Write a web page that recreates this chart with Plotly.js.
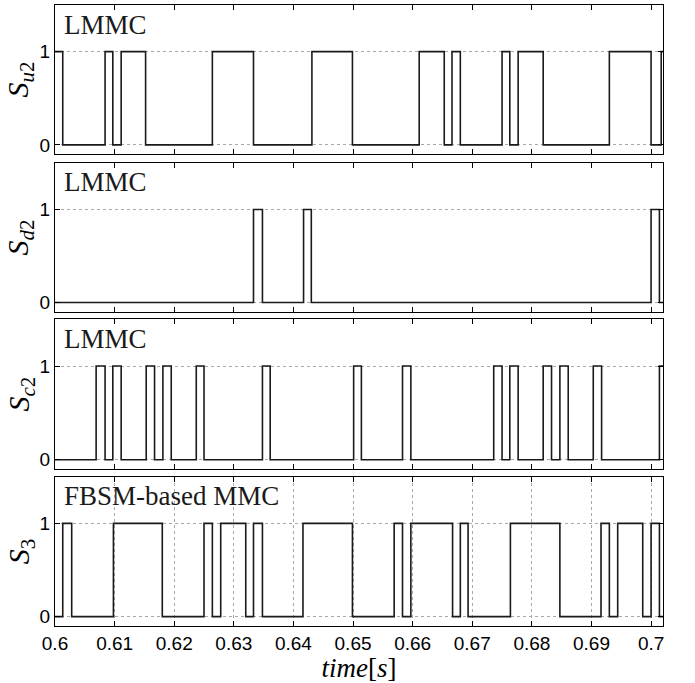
<!DOCTYPE html>
<html><head><meta charset="utf-8">
<script src="https://cdn.plot.ly/plotly-3.0.1.min.js"></script>
<style>body{margin:0;padding:0;background:#fff}#chart{width:695px;height:683px}</style>
</head><body><div id="chart"></div>
<script>
// Switching instants (s) and the state held from each instant (step, hv)
const su2_t = [0.6, 0.6013, 0.6084, 0.6097, 0.6111, 0.6152, 0.6264, 0.6333, 0.6431, 0.6499, 0.6611, 0.6653, 0.6666, 0.6680, 0.6750, 0.6763, 0.6777, 0.6819, 0.6930, 0.7000, 0.7017, 0.702];
const su2_v = [1, 0, 1, 0, 1, 0, 1, 0, 1, 0, 1, 0, 1, 0, 1, 0, 1, 0, 1, 0, 1, 1];

const sd2_t = [0.6, 0.6333, 0.6348, 0.6417, 0.6430, 0.7000, 0.7014, 0.702];
const sd2_v = [0, 1, 0, 1, 0, 1, 0, 0];

const sc2_t = [0.6, 0.6069, 0.6084, 0.6097, 0.6111, 0.6153, 0.6167, 0.6181, 0.6195, 0.6237, 0.6250, 0.6348, 0.6361, 0.6501, 0.6514, 0.6583, 0.6597, 0.6736, 0.6750, 0.6763, 0.6777, 0.6819, 0.6833, 0.6847, 0.6861, 0.6903, 0.6917, 0.7014, 0.702];
const sc2_v = [0, 1, 0, 1, 0, 1, 0, 1, 0, 1, 0, 1, 0, 1, 0, 1, 0, 1, 0, 1, 0, 1, 0, 1, 0, 1, 0, 1, 1];

const s3_t = [0.6, 0.6013, 0.6028, 0.6098, 0.6180, 0.6250, 0.6264, 0.6278, 0.6320, 0.6333, 0.6348, 0.6416, 0.6499, 0.6569, 0.6583, 0.6597, 0.6667, 0.6680, 0.6693, 0.6764, 0.6847, 0.6916, 0.6930, 0.6944, 0.6986, 0.7000, 0.7014, 0.702];
const s3_v = [0, 1, 0, 1, 0, 1, 0, 1, 0, 1, 0, 1, 0, 1, 0, 1, 0, 1, 0, 1, 0, 1, 0, 1, 0, 1, 0, 0];

const panelLabels = ["LMMC", "LMMC", "LMMC", "FBSM-based MMC"];
const yTitles = ["<i>S</i><sub><i>u</i>2</sub>", "<i>S</i><sub><i>d</i>2</sub>", "<i>S</i><sub><i>c</i>2</sub>", "<i>S</i><sub>3</sub>"];
const xTickVals = [0.6, 0.61, 0.62, 0.63, 0.64, 0.65, 0.66, 0.67, 0.68, 0.69, 0.7];
const xTickText = ["0.6", "0.61", "0.62", "0.63", "0.64", "0.65", "0.66", "0.67", "0.68", "0.69", "0.7"];

const series = [[su2_t, su2_v], [sd2_t, sd2_v], [sc2_t, sc2_v], [s3_t, s3_v]];
const domains = [[0.7597, 1.0], [0.5059, 0.7457], [0.2527, 0.4941], [0.0, 0.2403]];

const traces = series.map((s, i) => ({
  x: s[0], y: s[1], type: 'scatter', mode: 'lines',
  line: {shape: 'hv', color: '#1a1a1a', width: 1.6},
  xaxis: i === 0 ? 'x' : 'x' + (i + 1),
  yaxis: i === 0 ? 'y' : 'y' + (i + 1),
  showlegend: false, hoverinfo: 'skip'
}));

const layout = {
  width: 695, height: 683,
  margin: {l: 55.4, r: 31.7, t: 4.7, b: 57},
  paper_bgcolor: '#fff', plot_bgcolor: '#fff',
  showlegend: false,
  annotations: []
};

const tickFont = {family: 'Liberation Sans, Arial, sans-serif', size: 19, color: '#000'};
const serif = 'Liberation Serif, Times New Roman, serif';

for (let i = 0; i < 4; i++) {
  const xa = i === 0 ? 'xaxis' : 'xaxis' + (i + 1);
  const ya = i === 0 ? 'yaxis' : 'yaxis' + (i + 1);
  const last = i === 3;
  layout[xa] = {
    domain: [0, 1], anchor: i === 0 ? 'y' : 'y' + (i + 1),
    range: [0.6, 0.702],
    tickmode: 'array', tickvals: xTickVals, ticktext: xTickText,
    showticklabels: last, ticks: 'inside', ticklen: 5, tickcolor: '#000',
    showline: true, mirror: 'ticks', linecolor: '#000', linewidth: 1.2,
    showgrid: last, gridcolor: '#a8a8a8', griddash: 'dot', gridwidth: 1,
    zeroline: false, tickfont: tickFont
  };
  if (last) {
    layout[xa].title = {text: '<i>time</i>[<i>s</i>]', font: {family: serif, size: 27, color: '#000'}, standoff: 6};
  }
  layout[ya] = {
    domain: domains[i], anchor: i === 0 ? 'x' : 'x' + (i + 1),
    range: [-0.1, 1.5],
    tickmode: 'array', tickvals: [0, 1], ticktext: ['0', '1'],
    ticks: 'inside', ticklen: 5, tickcolor: '#000',
    showline: true, mirror: 'ticks', linecolor: '#000', linewidth: 1.2,
    showgrid: true, gridcolor: '#a8a8a8', griddash: 'dot', gridwidth: 1,
    zeroline: false, tickfont: tickFont,
    title: {text: yTitles[i], font: {family: serif, size: 30, color: '#000'}, standoff: 1}
  };
  layout.annotations.push({
    text: panelLabels[i], showarrow: false,
    xref: i === 0 ? 'x' : 'x' + (i + 1), yref: i === 0 ? 'y' : 'y' + (i + 1),
    x: 0.6012, y: 1.29, xanchor: 'left', yanchor: 'middle',
    font: {family: serif, size: 27, color: '#1a1a1a'}
  });
}

Plotly.newPlot('chart', traces, layout, {staticPlot: true, displayModeBar: false});
</script></body></html>
